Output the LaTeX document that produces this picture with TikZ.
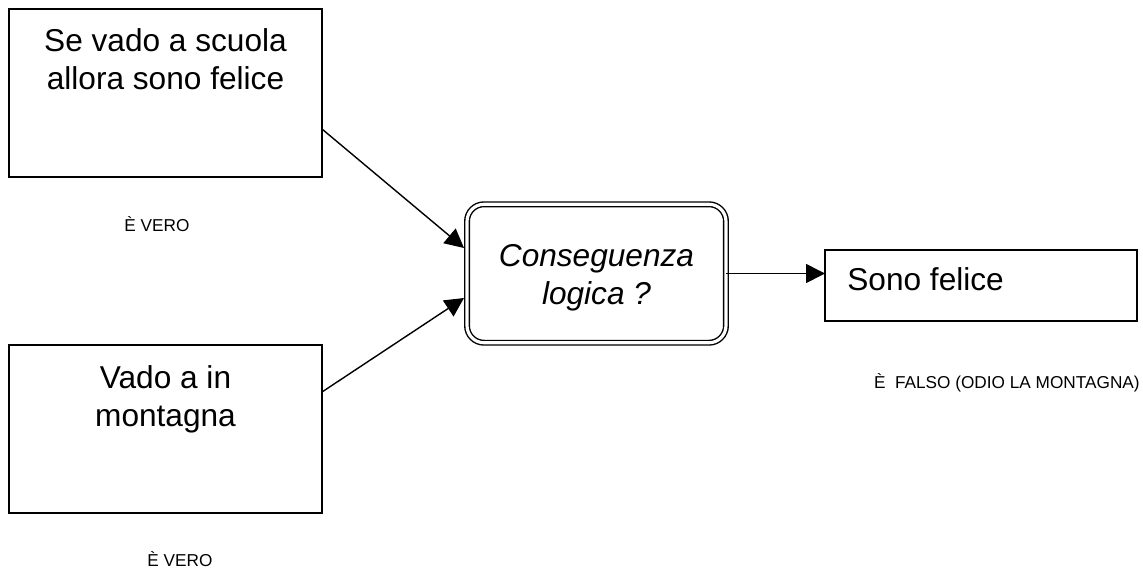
\documentclass[tikz,border=0pt]{standalone}
\usepackage{fontspec}
\setmainfont{Liberation Sans}
\usetikzlibrary{shapes,arrows.meta}
\tikzstyle{box} = [draw, line width=1pt, minimum width=6.26cm, inner sep=0pt, outer sep=0pt]
\tikzstyle{testo} = [inner sep=0pt, align=center, font=\fontsize{18}{21.5}\selectfont]
\tikzstyle{nota} = [inner sep=0pt, font=\fontsize{9.8}{11}\selectfont]
\tikzstyle{line} = [draw, line width=0.8pt, -{Triangle[length=0.38cm,width=0.38cm]}]

\begin{document}
\begin{tikzpicture}[x=0.02cm, y=-0.02cm]
            \useasboundingbox (0,0) rectangle (1143,569);
                % premesse
                \node [box, minimum height=3.36cm] (scuola) at (165.5,93) {};
                \node [testo, anchor=north] (scuolaT) at (165.5,28) {Se vado a scuola\\allora sono felice};
                \node [nota, anchor=base] (veroA) at (157,231) {È VERO};
                \node [box, minimum height=3.36cm] (monte) at (165.5,429) {};
                \node [testo, anchor=north] (monteT) at (165.5,365) {Vado a in\\montagna};
                \node [nota, anchor=base] (veroB) at (180,566) {È VERO};
                % domanda
                \node [draw, double, line width=0.8pt, double distance=1.8pt, rounded corners=0.34cm,
                       minimum width=5.18cm, minimum height=2.77cm, inner sep=0pt, outer sep=0pt] (cons) at (596.5,273.5) {};
                \node [testo, font=\fontsize{18}{21.5}\selectfont\itshape, anchor=north] (consT) at (596.5,244) {Conseguenza\\logica ?};
                % conclusione
                \node [box, minimum width=6.24cm, minimum height=1.42cm] (felice) at (981,285.5) {};
                \node [testo, anchor=base west] (feliceT) at (847,290) {Sono felice};
                \node [nota, anchor=base east] (falso) at (1140,388) {È\ \ FALSO (ODIO LA MONTAGNA)};
                \path [line] ([yshift=-0.72cm]scuola.east) -- ([xshift=-0.06cm,yshift=0.51cm]cons.west);
                \path [line] ([yshift=0.74cm]monte.east) -- ([xshift=-0.06cm,yshift=-0.49cm]cons.west);
                \path [line] (cons.east) -- (cons.east -| felice.west);
            \end{tikzpicture}
\end{document}
